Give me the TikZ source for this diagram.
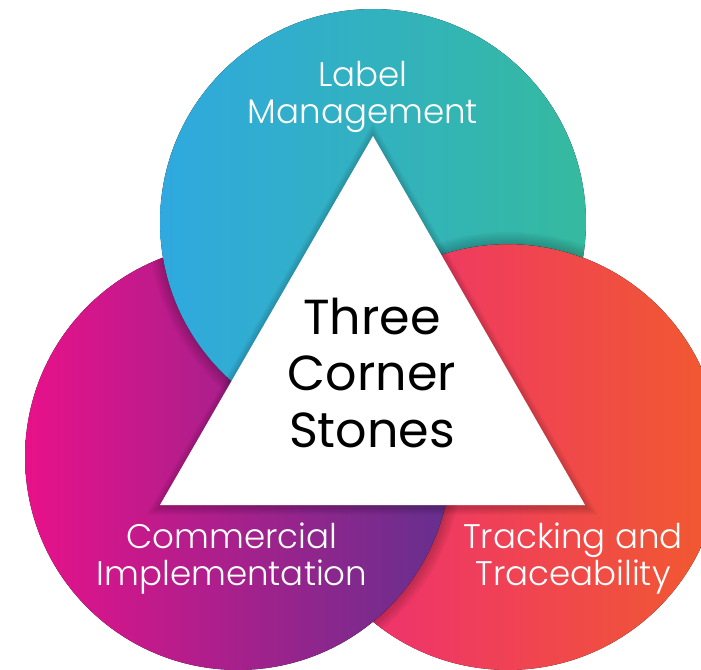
\documentclass[tikz,border=0pt]{standalone}
\usepackage{fontspec}
\IfFontExistsTF{Poppins Light}{\setmainfont{Poppins Light}}{\setmainfont{Poppins}}
\newfontfamily\midfont{Poppins}
\usepackage{tikz}

\definecolor{topL}{HTML}{2FA9DF}
\definecolor{topR}{HTML}{35BA9F}
\definecolor{leftL}{HTML}{E8118A}
\definecolor{leftR}{HTML}{64308E}
\definecolor{rightL}{HTML}{EE2A7B}
\definecolor{rightR}{HTML}{F15A2E}

\tikzset{
	shade ring/.style={black, opacity=0.035, even odd rule},
	side/.style={text=white, align=center, font=\fontsize{19.4}{21}\selectfont},
	centre/.style={text=black, align=center, font=\midfont\fontsize{28}{32.4}\selectfont}
}

\def\R{4.26cm}

\begin{document}
\begin{tikzpicture}[x=0.02cm, y=-0.02cm]
\useasboundingbox (0,0) rectangle (701,670);

\coordinate (T) at (373,222);
\coordinate (L) at (238,457);
\coordinate (Rt) at (508,457);

% right circle, lowest
\fill[left color=rightL, right color=rightR] (Rt) circle[radius=\R];

% left circle casts its shadow on the right one
\begin{scope}
	\clip (Rt) circle[radius=\R];
	\foreach \w in {1,2,...,6}{
		\fill[shade ring] (L) circle[radius=\R+\w*0.04cm] (L) circle[radius=\R];
	}
\end{scope}
\fill[left color=leftL, right color=leftR] (L) circle[radius=\R];

% top circle casts its shadow on the left one
\begin{scope}
	\clip (L) circle[radius=\R];
	\foreach \w in {1,2,...,6}{
		\fill[shade ring] (T) circle[radius=\R+\w*0.04cm] (T) circle[radius=\R];
	}
\end{scope}

% top circle, kept out of the right one
\begin{scope}[even odd rule]
	\clip (-50,-50) rectangle (750,720) (Rt) circle[radius=\R];
	\fill[left color=topL, right color=topR] (T) circle[radius=\R];
\end{scope}

% right circle casts its shadow on the top one
\begin{scope}
	\clip (T) circle[radius=\R];
	\foreach \w in {1,2,...,6}{
		\fill[shade ring] (Rt) circle[radius=\R+\w*0.04cm] (Rt) circle[radius=\R];
	}
\end{scope}

% triangle
\coordinate (A) at (373,136);
\coordinate (B) at (160,505);
\coordinate (C) at (585,505);
\foreach \w in {3,6,...,15}{
	\draw[black, opacity=0.04, line width=\w*0.02cm, line join=miter] ([yshift=-0.04cm]A) -- ([yshift=-0.04cm]B) -- ([yshift=-0.04cm]C) -- cycle;
}
\fill[white] (A) -- (B) -- (C) -- cycle;

% texts
\node[side] (lab) at (363,97) {Label\\Management};
\node[side] (com) at (232,559) {Commercial\\Implementation};
\node[side] (trk) at (573,559) {Tracking and\\Traceability};
\node[centre] (mid) at (372,373) {Three\\Corner\\Stones};

\end{tikzpicture}
\end{document}
